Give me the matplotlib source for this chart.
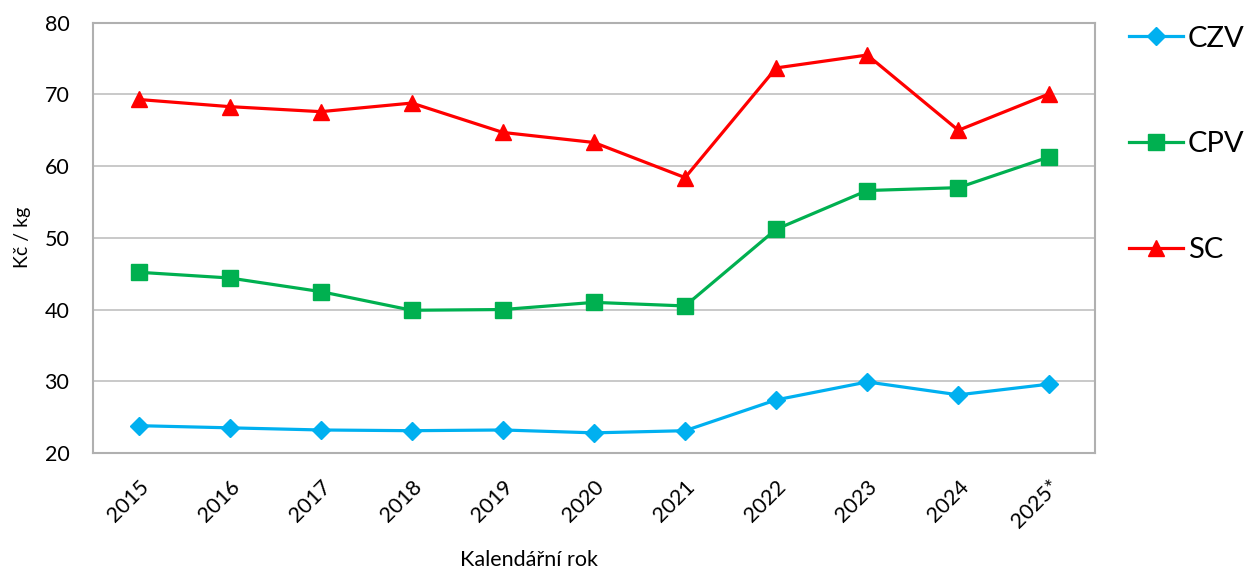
import numpy as np
import matplotlib.pyplot as plt
from matplotlib.ticker import MultipleLocator

plt.rcParams['font.family'] = ['Lato', 'DejaVu Sans']

years = ['2015', '2016', '2017', '2018', '2019', '2020', '2021', '2022', '2023', '2024', '2025*']
czv = [23.8, 23.5, 23.2, 23.1, 23.2, 22.8, 23.1, 27.4, 29.9, 28.1, 29.6]
cpv = [45.2, 44.4, 42.5, 39.9, 40.0, 41.0, 40.5, 51.2, 56.6, 57.0, 61.3]
sc = [69.3, 68.3, 67.6, 68.8, 64.7, 63.3, 58.4, 73.7, 75.5, 65.0, 70.1]

x = np.arange(len(years))

fig = plt.figure(figsize=(12.47, 5.69), dpi=100)
ax = fig.add_axes([0.0746, 0.204, 0.8035, 0.756])

l1, = ax.plot(x, czv, color='#00B0F0', lw=2.3, marker='D', ms=9.5, label='CZV')
l2, = ax.plot(x, cpv, color='#00B050', lw=2.3, marker='s', ms=11, label='CPV')
l3, = ax.plot(x, sc, color='#FF0000', lw=2.3, marker='^', ms=12, label='SC')

ax.set_xlim(-0.5, len(years) - 0.5)
ax.set_ylim(20, 80)
ax.yaxis.set_major_locator(MultipleLocator(10))
ax.set_xticks(x)
ax.set_xticklabels(years, rotation=45, ha='right', rotation_mode='anchor', fontsize=15.5)
ax.tick_params(axis='y', labelsize=15.5, length=0, pad=17)
ax.tick_params(axis='x', length=0, pad=17)
ax.grid(axis='y', color='#C0C0C0', lw=1.2)
ax.set_axisbelow(True)
for s in ax.spines.values():
    s.set_color('#B0B0B0')
    s.set_linewidth(1.5)

ax.set_ylabel('Kč / kg', fontsize=14)
ax.yaxis.set_label_coords(-0.062, 0.5)
ax.set_xlabel('Kalendářní rok', fontsize=15.5)
ax.xaxis.set_label_coords(0.435, -0.226)

fig.legend(handles=[l1, l2, l3], loc='upper left', bbox_to_anchor=(0.9054, 0.955),
           frameon=False, fontsize=21, labelspacing=2.73, handlelength=1.85,
           handletextpad=0.17, borderaxespad=0, borderpad=0)

fig.savefig('out.png', dpi=100)
